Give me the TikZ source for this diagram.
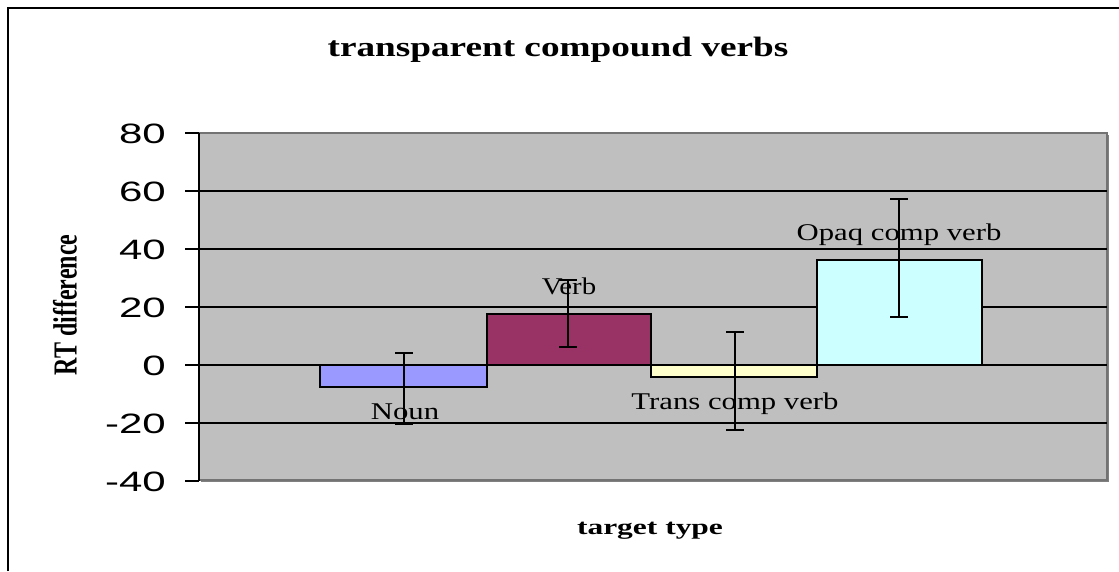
\documentclass[tikz,border=0pt]{standalone}
\usepackage{fontspec}
\setmainfont{Liberation Serif}
\newfontfamily\arialf{Liberation Sans}
\begin{document}
\begin{tikzpicture}[x=1pt,y=-1pt,
  frame/.style={line width=2.5pt,black},
  grid/.style={line width=1.4pt,black},
  bar/.style={draw=black,line width=1.8pt},
  errbar/.style={line width=1.8pt,black},
  tick/.style={line width=1.4pt,black},
  ticklab/.style={anchor=base east,inner sep=0pt},
  barlab/.style={anchor=base,inner sep=0pt},
  boldlab/.style={anchor=base,inner sep=0pt}
]
\useasboundingbox (0,0) rectangle (1119,571);
\fill[white] (0,0) rectangle (1119,571);
% outer frame (top and left edges visible)
\draw[frame] (8,571) -- (8,8) -- (1119,8);
% plot area
\fill[black!50] (201,135) rectangle (1109,482);
\fill[black!25] (199,133) rectangle (1107,480);
\draw[line width=1.2pt,black!55] (199,133) rectangle (1107,480);
% gridlines
\foreach \v in {60,40,20,0,-20}{
  \draw[grid] (199,{365-2.9*\v}) -- (1107,{365-2.9*\v});
}
% axis and ticks
\draw[line width=2pt,black] (199,133) -- (199,481);
\foreach \v in {80,60,40,20,0,-20,-40}{
  \draw[tick] (185,{365-2.9*\v}) -- (199,{365-2.9*\v});
  \node[ticklab] at (166,{365-2.9*\v+10}) {\scalebox{1.5}[1]{\arialf\fontsize{28}{30}\selectfont \v}};
}
% bars
\draw[bar,fill={rgb,255:red,153;green,153;blue,255}] (320,365) rectangle (487,{365+2.9*7.5});
\draw[bar,fill={rgb,255:red,153;green,51;blue,102}] (487,365) rectangle (651,{365-2.9*17.6});
\draw[bar,fill={rgb,255:red,255;green,255;blue,204}] (651,365) rectangle (817,{365+2.9*4.1});
\draw[bar,fill={rgb,255:red,204;green,255;blue,255}] (817,365) rectangle (982,{365-2.9*36.2});
% error bars
\foreach \x/\hi/\lo in {404/353/424, 568/280/347, 735/332/430, 899/199/317}{
  \draw[errbar] (\x,\hi) -- (\x,\lo);
  \draw[errbar] (\x-9,\hi) -- (\x+9,\hi);
  \draw[errbar] (\x-9,\lo) -- (\x+9,\lo);
}
% bar labels
\node[barlab] (lnoun) at (405,419) {\scalebox{1.28}[1]{\fontsize{24}{28}\selectfont Noun}};
\node[barlab] (lverb) at (569,294) {\scalebox{1.2}[1]{\fontsize{24}{28}\selectfont Verb}};
\node[barlab] (ltrans) at (735,409) {\scalebox{1.28}[1]{\fontsize{24}{28}\selectfont Trans comp verb}};
\node[barlab] (lopaq) at (899,240) {\scalebox{1.28}[1]{\fontsize{24}{28}\selectfont Opaq comp verb}};
% titles
\node[boldlab] (title) at (558,56) {\scalebox{1.33}[1]{\bfseries\fontsize{28}{32}\selectfont transparent compound verbs}};
\node[boldlab] (xlab) at (650,534) {\scalebox{1.43}[1]{\bfseries\fontsize{22}{26}\selectfont target type}};
\node[inner sep=0pt,rotate=90] (ylab) at (65,305) {\scalebox{1}[1.4]{\bfseries\fontsize{24}{28}\selectfont RT difference}};
\end{tikzpicture}
\end{document}
